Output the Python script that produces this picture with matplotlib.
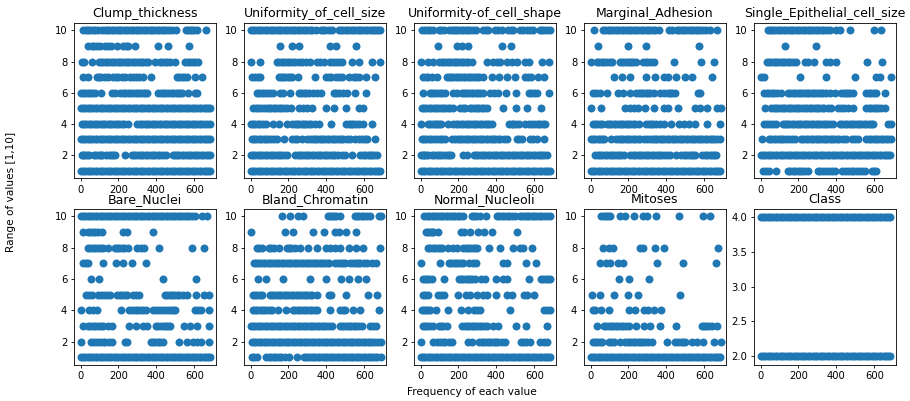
import matplotlib
matplotlib.use("Agg")
from matplotlib import pyplot as plt

full = [0, 12, 25, 37, 50, 62, 75, 87, 100, 112, 125, 137, 150, 162, 175, 187, 200, 212, 225, 237, 250, 262, 275, 287, 300, 312, 325, 337,
        350, 362, 375, 387, 400, 412, 425, 437, 450, 462, 475, 487, 500, 512, 525, 537, 550, 562, 575, 587, 600, 612, 625, 637, 650, 662, 672, 682]

clump = {
    10: [14, 28, 40, 52, 65, 78, 90, 115, 128, 140, 152, 165, 178, 190, 202, 215, 228, 240, 252, 265, 278, 290, 302, 315, 328, 340, 352, 365, 378, 390, 402, 415, 428, 440, 452, 465, 480, 505, 555, 568, 580, 590, 600, 617, 660],
    9: [40, 60, 72, 85, 100, 130, 145, 160, 190, 225, 238, 250, 285, 408, 463, 573],
    8: [5, 18, 58, 95, 108, 120, 132, 145, 158, 170, 182, 195, 208, 220, 232, 245, 258, 270, 282, 295, 308, 320, 332, 345, 358, 395, 420, 432, 445, 458, 470, 498, 552, 566, 580, 592, 605, 622],
    7: [14, 40, 85, 98, 110, 128, 145, 173, 186, 200, 218, 235, 260, 275, 290, 310, 330, 370, 508, 522, 535, 548, 560, 605, 643],
    6: [0, 12, 25, 38, 50, 62, 75, 105, 165, 182, 208, 222, 235, 248, 260, 275, 290, 302, 315, 328, 340, 352, 410, 422, 435, 448, 460, 475, 490, 502, 515, 525, 535, 568, 605, 617],
    5: full,
    4: [5, 18, 30, 42, 55, 68, 80, 92, 105, 118, 130, 142, 155, 168, 180, 192, 205, 218, 230, 250, 300, 312, 325, 338, 350, 362, 375, 388, 400, 412, 425, 438, 450, 462, 475, 488, 500, 512, 525, 538, 550, 562, 575, 588, 600, 612, 625, 638, 650, 666, 682],
    3: full,
    2: [5, 15, 25, 35, 45, 70, 82, 95, 105, 115, 135, 148, 160, 172, 182, 235, 270, 282, 295, 308, 320, 332, 345, 358, 370, 382, 395, 408, 420, 435, 450, 487, 498, 510, 522, 535, 548, 560, 572, 585, 598, 610, 622, 635, 648, 660, 672, 682],
    1: full,
}
cell_size = {
    10: [0, 12, 25, 37, 50, 62, 75, 87, 100, 112, 125, 137, 150, 162, 175, 187, 200, 212, 225, 237, 250, 262, 275, 287, 300, 312, 325, 345, 370, 382, 395, 412, 430, 465, 478, 490, 502, 515, 528, 540, 552, 565, 578, 590, 602, 615, 628, 640, 650, 660, 672, 682],
    9: [153, 218, 255, 418, 450, 559],
    8: [0, 48, 140, 152, 165, 178, 190, 204, 218, 236, 254, 272, 290, 315, 350, 368, 385, 418, 434, 450, 466, 483, 533, 575, 642, 682],
    7: [7, 25, 38, 50, 148, 160, 170, 182, 195, 206, 218, 250, 340, 398, 412, 425, 450, 466, 483, 518, 545, 558, 570, 612, 656],
    6: [33, 46, 60, 72, 85, 100, 118, 157, 170, 210, 254, 268, 280, 295, 310, 330, 350, 372, 439, 452, 465, 488, 510, 553, 610],
    5: [12, 26, 40, 54, 68, 86, 98, 110, 122, 135, 148, 160, 176, 192, 215, 254, 276, 298, 325, 398, 439, 506, 571, 594],
    4: [0, 12, 25, 38, 50, 66, 83, 118, 148, 192, 218, 232, 245, 258, 270, 282, 295, 308, 320, 340, 360, 427, 506, 518, 530, 542, 555, 571, 594, 642],
    3: [7, 18, 30, 42, 55, 68, 80, 92, 105, 122, 139, 175, 218, 232, 245, 272, 298, 316, 328, 340, 352, 365, 378, 390, 402, 415, 428, 440, 452, 465, 478, 490, 510, 527, 553, 571, 590, 602, 615, 656],
    2: [0, 12, 25, 38, 50, 62, 75, 88, 100, 112, 125, 138, 150, 162, 175, 192, 236, 248, 260, 272, 285, 298, 310, 322, 335, 348, 360, 372, 385, 398, 410, 422, 435, 448, 460, 480, 500, 536, 580, 592, 605, 618, 630, 640, 650, 668],
    1: full,
}
cell_shape = {
    10: [5, 25, 38, 50, 65, 95, 110, 125, 152, 164, 175, 188, 200, 212, 225, 238, 250, 262, 275, 295, 330, 345, 358, 393, 410, 428, 463, 476, 490, 525, 542, 560, 578, 596, 628, 640, 650, 666, 682],
    9: [93, 194, 217, 252, 428, 476],
    8: [0, 40, 65, 98, 112, 125, 138, 150, 162, 175, 188, 200, 212, 225, 238, 250, 270, 352, 384, 402, 420, 455, 482, 508, 552, 575, 640, 680],
    7: [14, 28, 40, 58, 85, 137, 148, 160, 172, 185, 198, 210, 222, 235, 248, 260, 272, 285, 298, 310, 330, 375, 416, 458, 500, 552, 568, 582, 622, 654],
    6: [10, 48, 58, 70, 85, 100, 114, 128, 173, 190, 217, 228, 240, 252, 265, 278, 290, 302, 315, 331, 367, 388, 410, 451, 504, 570, 585, 600, 614, 679],
    5: [5, 18, 30, 42, 55, 68, 80, 92, 105, 118, 130, 142, 155, 172, 208, 222, 235, 261, 273, 285, 298, 310, 322, 335, 350, 437, 504, 564, 638],
    4: [0, 40, 52, 65, 75, 85, 98, 110, 143, 173, 186, 200, 212, 225, 238, 250, 262, 275, 288, 300, 312, 325, 338, 350, 362, 375, 469, 480, 490, 504, 517, 552, 570, 587, 605, 618, 630, 644, 658],
    3: [5, 18, 30, 42, 55, 70, 85, 102, 115, 128, 168, 182, 195, 208, 220, 232, 245, 258, 270, 282, 295, 308, 320, 332, 345, 358, 370, 382, 395, 408, 420, 438, 455, 508, 522, 535, 578, 596, 613, 649],
    2: [0, 10, 20, 30, 40, 58, 72, 85, 98, 110, 125, 140, 152, 163, 226, 245, 282, 293, 305, 318, 330, 342, 355, 368, 380, 392, 405, 418, 430, 442, 455, 468, 480, 492, 505, 518, 530, 542, 555, 568, 580, 592, 605, 618, 630, 640, 650, 667],
    1: full,
}
adhesion = {
    10: [16, 65, 78, 90, 102, 115, 128, 140, 152, 165, 178, 190, 202, 215, 228, 240, 252, 265, 278, 290, 302, 315, 328, 340, 360, 413, 430, 457, 468, 480, 492, 505, 518, 530, 542, 555, 568, 580, 594, 607, 633, 665],
    9: [37, 199, 295, 571],
    8: [0, 33, 46, 58, 72, 85, 100, 113, 153, 166, 178, 190, 203, 214, 225, 241, 277, 291, 305, 320, 337, 439, 584, 654],
    7: [122, 168, 210, 291, 342, 386, 409, 450, 499, 536, 642],
    6: [12, 30, 50, 86, 143, 171, 210, 241, 253, 265, 278, 290, 302, 315, 333, 365, 386, 409, 420, 430, 448, 565, 580],
    5: [0, 56, 183, 210, 228, 248, 289, 333, 386, 409, 462, 553, 580, 615, 668, 686],
    4: [12, 24, 35, 48, 60, 86, 98, 110, 122, 135, 148, 160, 172, 185, 198, 210, 222, 235, 254, 295, 308, 320, 332, 345, 365, 386, 427, 465, 492, 518, 553, 617, 682],
    3: [0, 12, 25, 38, 50, 60, 72, 107, 135, 148, 160, 172, 185, 198, 210, 222, 235, 248, 260, 280, 298, 316, 328, 340, 352, 365, 378, 390, 402, 415, 428, 440, 452, 465, 478, 490, 502, 515, 528, 540, 552, 565, 578, 590, 602, 615, 628, 640, 652, 665, 682],
    2: [25, 38, 50, 62, 75, 88, 100, 112, 125, 138, 150, 162, 175, 210, 222, 235, 248, 260, 272, 285, 298, 310, 322, 335, 348, 360, 372, 385, 403, 421, 450, 478, 492, 505, 518, 530, 542, 553, 589, 602, 615, 628, 640, 650, 660],
    1: full,
}
epithelial = {
    10: [37, 48, 60, 72, 85, 98, 110, 122, 135, 148, 160, 172, 185, 198, 210, 222, 235, 248, 260, 272, 285, 298, 310, 322, 335, 350, 365, 400, 421, 471, 598, 637],
    9: [127, 294],
    8: [32, 44, 55, 68, 80, 92, 105, 118, 130, 142, 155, 172, 188, 232, 250, 283, 347, 365, 400, 560, 640],
    7: [0, 20, 209, 343, 496, 612, 630, 687],
    6: [18, 32, 45, 58, 70, 88, 108, 143, 156, 170, 182, 195, 208, 220, 232, 245, 258, 270, 282, 295, 308, 320, 332, 345, 365, 391, 427, 438, 450, 460, 470, 488, 559, 572, 585, 598, 612, 658],
    5: [23, 55, 68, 80, 92, 105, 118, 130, 142, 155, 168, 180, 192, 205, 218, 232, 246, 260, 272, 285, 298, 310, 322, 335, 354, 373, 409, 424, 440, 464, 488, 559, 572, 585, 598, 610, 622, 635, 657],
    4: [20, 35, 50, 66, 81, 117, 128, 140, 152, 165, 178, 190, 202, 215, 228, 240, 252, 265, 278, 290, 302, 315, 328, 340, 352, 365, 382, 418, 432, 445, 458, 470, 482, 495, 508, 520, 532, 545, 558, 570, 582, 595, 674, 690],
    3: [7, 42, 56, 70, 82, 95, 108, 120, 135, 150, 165, 179, 214, 226, 240, 252, 265, 278, 290, 302, 315, 328, 340, 352, 365, 378, 390, 402, 415, 434, 453, 480, 498, 515, 559, 572, 585, 598, 610, 622, 635, 648, 660, 674, 688],
    2: full,
    1: [11, 28, 46, 83, 143, 156, 170, 182, 195, 208, 220, 235, 250, 303, 316, 330, 345, 360, 376, 391, 432, 446, 460, 475, 490, 505, 520, 535, 550, 586, 600, 612],
}
bare_nuclei = {
    10: [0, 12, 25, 37, 50, 62, 75, 87, 100, 112, 125, 137, 150, 162, 175, 187, 200, 212, 225, 237, 250, 262, 275, 287, 300, 312, 325, 337, 350, 362, 375, 387, 400, 412, 425, 437, 450, 462, 475, 487, 500, 512, 525, 537, 550, 562, 575, 590, 605, 640, 667],
    9: [10, 40, 52, 65, 78, 90, 111, 226, 243, 384],
    8: [40, 52, 65, 78, 90, 105, 120, 143, 182, 194, 205, 218, 230, 252, 300, 318, 335, 416, 589, 652],
    7: [14, 28, 40, 120, 187, 226, 270, 344],
    6: [53, 95, 437, 607],
    5: [28, 42, 58, 93, 108, 125, 140, 155, 194, 207, 220, 232, 243, 275, 292, 310, 446, 458, 470, 482, 495, 508, 520, 540, 560, 608, 652, 680],
    4: [0, 44, 64, 85, 212, 257, 271, 285, 300, 315, 330, 345, 384, 400, 415, 430, 445, 460, 475, 488, 500, 605, 620, 635, 680],
    3: [10, 40, 52, 65, 78, 90, 105, 120, 146, 164, 256, 293, 332, 353, 397, 411, 425, 438, 450, 462, 473, 547, 578, 617, 679],
    2: [0, 53, 68, 85, 102, 116, 130, 148, 164, 235, 245, 370, 382, 395, 408, 420, 437, 520, 561, 596, 615, 635, 679],
    1: full,
}
chromatin = {
    10: [166, 210, 249, 277, 409, 420, 430, 440, 450, 471, 549, 562, 575, 588, 600, 616, 633, 677, 690],
    9: [3, 180, 224, 330, 386, 448, 466, 503, 556],
    8: [33, 46, 60, 95, 108, 122, 148, 192, 204, 215, 236, 263, 302, 351, 399, 420, 448, 474, 519, 554, 594, 681],
    7: [16, 28, 40, 52, 65, 78, 90, 102, 115, 128, 140, 152, 165, 178, 190, 202, 215, 228, 240, 252, 265, 278, 290, 302, 315, 328, 340, 352, 365, 378, 390, 402, 413, 448, 462, 475, 488, 501, 527, 542, 555, 568, 580, 598, 616, 642, 660],
    6: [39, 83, 169, 316, 399, 478, 519, 568, 607],
    5: [12, 24, 35, 48, 60, 100, 112, 125, 138, 150, 162, 175, 188, 200, 212, 225, 238, 250, 262, 275, 288, 300, 312, 325, 351, 413, 427, 506, 619, 665],
    4: [12, 24, 35, 48, 60, 72, 85, 100, 113, 143, 185, 224, 237, 250, 262, 275, 288, 300, 312, 325, 338, 351, 418, 474, 488, 501, 540, 577, 677],
    3: [0, 12, 25, 37, 50, 62, 75, 87, 100, 112, 125, 137, 150, 162, 175, 187, 200, 212, 225, 237, 250, 262, 275, 287, 300, 312, 325, 337, 350, 362, 375, 387, 400, 415, 430, 471, 483, 495, 508, 520, 532, 545, 558, 570, 589, 633, 646, 660],
    2: [5, 18, 30, 42, 55, 68, 80, 92, 105, 118, 130, 142, 155, 168, 180, 192, 205, 218, 230, 242, 255, 268, 280, 292, 305, 318, 330, 342, 355, 368, 380, 392, 405, 418, 430, 442, 455, 468, 480, 492, 505, 518, 530, 542, 555, 568, 580, 592, 605, 618, 630, 642, 655, 672, 690],
    1: [5, 18, 33, 83, 96, 110, 122, 135, 148, 160, 180, 201, 245, 280, 292, 305, 318, 330, 342, 355, 368, 380, 392, 405, 418, 430, 442, 455, 468, 480, 492, 505, 518, 530, 542, 555, 568, 580, 592, 605, 618, 630, 642, 655, 670, 686],
}
nucleoli = {
    10: [18, 32, 45, 58, 70, 82, 95, 108, 120, 132, 145, 158, 170, 182, 195, 210, 226, 270, 282, 295, 314, 346, 402, 416, 430, 442, 455, 468, 481, 500, 525, 538, 550, 562, 575, 588, 600, 612, 625, 638, 650, 666, 682],
    9: [28, 40, 50, 58, 67, 93, 212, 229, 261, 302, 335, 377, 511],
    8: [40, 52, 65, 78, 90, 100, 111, 143, 173, 194, 226, 238, 250, 262, 275, 286, 296, 363, 420, 490, 525, 543, 589],
    7: [2, 104, 150, 162, 175, 188, 200, 212, 226, 257, 275, 293, 434, 455, 557, 607],
    6: [14, 25, 35, 46, 58, 125, 203, 214, 225, 238, 250, 260, 270, 287, 319, 340, 398, 437, 455, 575, 635, 648, 660, 672, 684],
    5: [10, 25, 40, 90, 110, 125, 199, 238, 261, 296, 328, 349, 397, 455, 481, 547, 564, 600],
    4: [5, 16, 28, 40, 50, 81, 146, 212, 250, 282, 298, 314, 471, 649, 665, 684],
    3: [10, 22, 35, 50, 67, 99, 110, 120, 138, 220, 232, 245, 258, 270, 282, 295, 308, 320, 335, 349, 384, 411, 504, 554, 668],
    2: [2, 63, 85, 102, 116, 130, 148, 164, 252, 270, 310, 322, 335, 348, 360, 372, 385, 398, 410, 428, 446, 529, 542, 555, 578, 631, 650, 667],
    1: full,
}
mitoses = {
    10: [56, 68, 80, 92, 104, 157, 183, 227, 277, 298, 347, 466, 594, 633],
    9: [],
    8: [63, 99, 118, 263, 277, 342, 386, 672],
    7: [48, 81, 104, 143, 171, 351, 490, 663],
    6: [152, 203, 307],
    5: [7, 48, 123, 199, 252, 473],
    4: [12, 25, 56, 99, 203, 236, 280, 302, 333, 372],
    3: [33, 69, 82, 95, 108, 120, 132, 145, 158, 170, 186, 201, 242, 280, 316, 368, 450, 586, 598, 610, 625, 640, 668],
    2: [12, 24, 35, 48, 60, 95, 108, 122, 153, 183, 197, 210, 222, 235, 248, 260, 272, 285, 305, 325, 404, 443, 459, 475, 488, 501, 536, 563, 594, 651, 686],
    1: full,
}
class_col = {4: full, 2: full}

panels = [clump, cell_size, cell_shape, adhesion, epithelial, bare_nuclei, chromatin, nucleoli, mitoses, class_col]
titles = ["Clump_thickness", "Uniformity_of_cell_size", "Uniformity-of_cell_shape", "Marginal_Adhesion",
          "Single_Epithelial_cell_size", "Bare_Nuclei", "Bland_Chromatin", "Normal_Nucleoli", "Mitoses", "Class"]

W = 910
H = 401
lefts = [74, 244, 414, 584, 754]
widths = 142
tops = [23, 209]
heights = [155, 155.5]

fig = plt.figure(figsize=(W / 100, H / 100), dpi=100)
for i in range(10):
    row = i // 5
    col = i % 5
    ax = fig.add_axes([lefts[col] / W, 1 - (tops[row] + heights[row]) / H, widths / W, heights[row] / H])
    for level, xs in panels[i].items():
        ax.scatter(xs, [level] * len(xs), s=33, color="#1f77b4", linewidths=0)
    ax.set_xlim(-35, 715)
    ax.set_xticks([0, 200, 400, 600])
    ax.tick_params(labelsize=7.2, length=2.4, width=0.6, pad=2.5)
    for sp in ax.spines.values():
        sp.set_linewidth(0.6)
    ax.set_title(titles[i], fontsize=9, pad=4.4)
    if i == 9:
        ax.set_ylim(1.88, 4.12)
        ax.set_yticks([2.0, 2.5, 3.0, 3.5, 4.0])
    else:
        ax.set_ylim(0.53, 10.47)
        ax.set_yticks([2, 4, 6, 8, 10])

fig.text(471.5 / W, 1 - 392 / H, "Frequency of each value", fontsize=7.6, ha="center", va="center")
fig.text(11 / W, 1 - 192 / H, "Range of values [1,10]", fontsize=7.6, rotation=90, ha="center", va="center")

plt.savefig("out.png", dpi=100)
